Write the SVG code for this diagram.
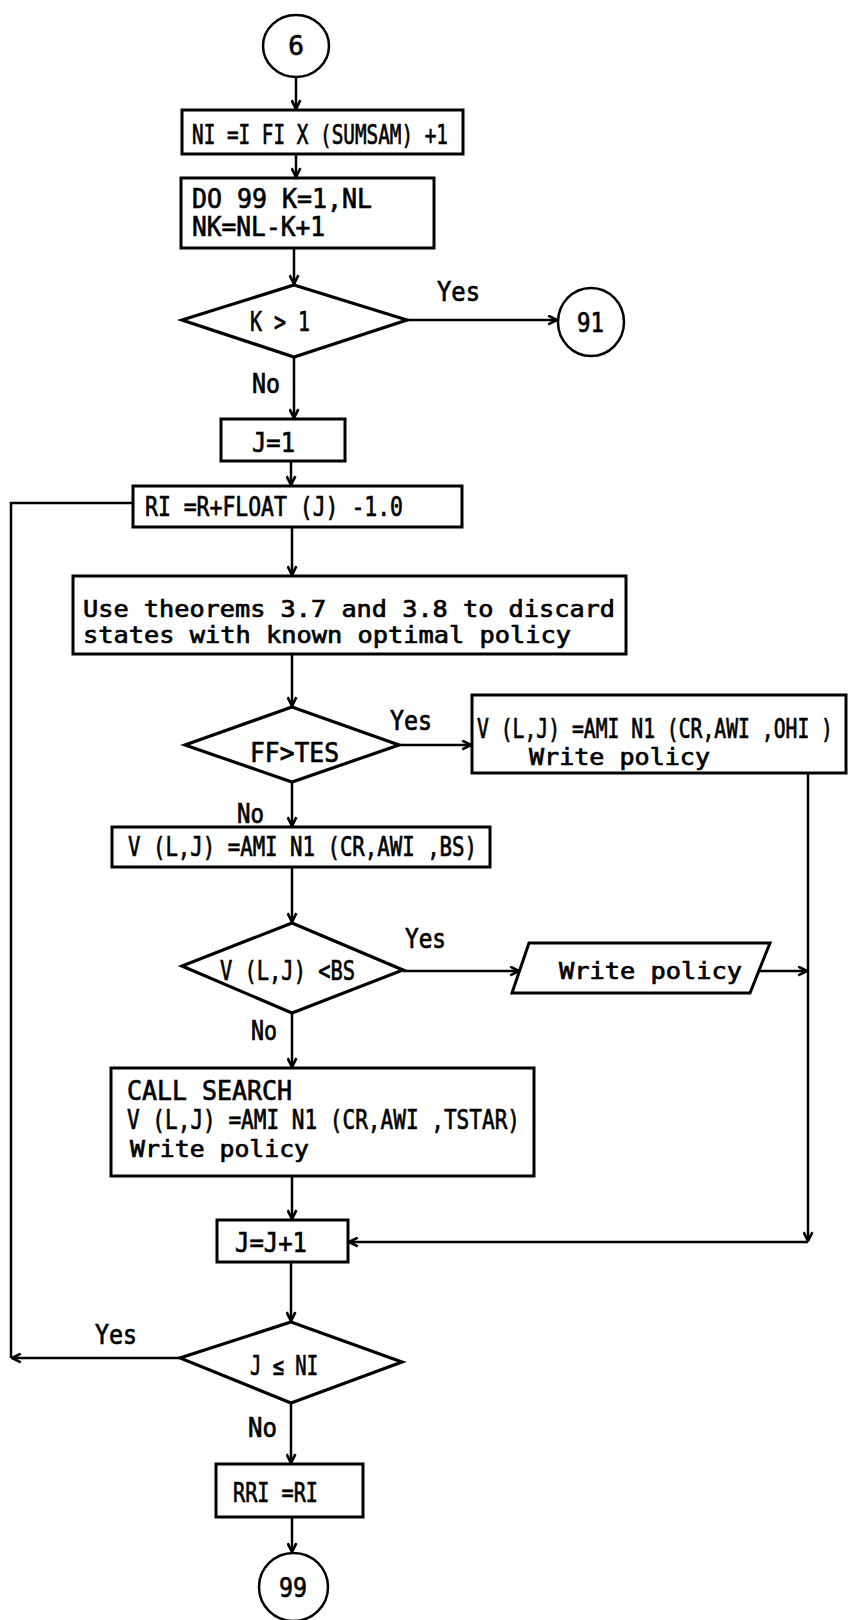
<svg xmlns="http://www.w3.org/2000/svg" width="848" height="1620" viewBox="0 0 848 1620">
<style>
  .bg { fill: #ffffff; }
  .box { fill: #ffffff; stroke: #000; stroke-width: 3; }
  .dia { fill: #ffffff; stroke: #000; stroke-width: 3.2; stroke-linejoin: miter; }
  .term { fill: #ffffff; stroke: #000; stroke-width: 2.5; }
  .conn { fill: none; stroke: #000; stroke-width: 2.5; }
  .t { font-family: "DejaVu Sans Mono", "Liberation Mono", monospace; fill: #000; stroke: #000; stroke-width: 0.7; }
  .up { font-size: 27px; }
  .lo { font-size: 23px; }
  .lbl { font-size: 26px; }
  .sm { font-size: 20px; stroke-width: 0.55; }
</style>
<defs>
  <marker id="ah" viewBox="0 0 10 10" refX="9" refY="5" markerWidth="11" markerHeight="11" orient="auto" markerUnits="userSpaceOnUse">
    <path d="M1,1 L9,5 L1,9" fill="none" stroke="#000" stroke-width="2.4"/>
  </marker>
</defs>
<rect class="bg" x="0" y="0" width="848" height="1620"/>

<g id="connectors">
  <line class="conn" x1="296" y1="77" x2="296" y2="109" marker-end="url(#ah)"/>
  <line class="conn" x1="296" y1="154" x2="296" y2="177" marker-end="url(#ah)"/>
  <line class="conn" x1="294" y1="248" x2="294" y2="284" marker-end="url(#ah)"/>
  <line class="conn" x1="407" y1="320" x2="557" y2="320" marker-end="url(#ah)"/>
  <line class="conn" x1="294" y1="357" x2="294" y2="418" marker-end="url(#ah)"/>
  <line class="conn" x1="291" y1="461" x2="291" y2="485" marker-end="url(#ah)"/>
  <line class="conn" x1="292" y1="527" x2="292" y2="575" marker-end="url(#ah)"/>
  <line class="conn" x1="292" y1="654" x2="292" y2="706" marker-end="url(#ah)"/>
  <line class="conn" x1="399" y1="745" x2="471" y2="745" marker-end="url(#ah)"/>
  <line class="conn" x1="292" y1="782" x2="292" y2="826" marker-end="url(#ah)"/>
  <line class="conn" x1="292" y1="867" x2="292" y2="922" marker-end="url(#ah)"/>
  <line class="conn" x1="403" y1="971" x2="519" y2="971" marker-end="url(#ah)"/>
  <line class="conn" x1="759" y1="971" x2="807" y2="971" marker-end="url(#ah)"/>
  <line class="conn" x1="808" y1="773" x2="808" y2="1241" marker-end="url(#ah)"/>
  <line class="conn" x1="808" y1="1242" x2="349" y2="1242" marker-end="url(#ah)"/>
  <line class="conn" x1="292" y1="1013" x2="292" y2="1067" marker-end="url(#ah)"/>
  <line class="conn" x1="292" y1="1176" x2="292" y2="1219" marker-end="url(#ah)"/>
  <line class="conn" x1="291" y1="1262" x2="291" y2="1321" marker-end="url(#ah)"/>
  <line class="conn" x1="180" y1="1358" x2="12" y2="1358" marker-end="url(#ah)"/>
  <polyline class="conn" points="11,1358 11,503 133,503"/>
  <line class="conn" x1="291" y1="1403" x2="291" y2="1463" marker-end="url(#ah)"/>
  <line class="conn" x1="292" y1="1517" x2="292" y2="1552" marker-end="url(#ah)"/>
</g>

<g id="n6">
  <ellipse class="term" cx="296" cy="46" rx="33" ry="31"/>
  <text class="t lbl" x="296" y="55" text-anchor="middle">6</text>
</g>
<g id="nNI">
  <rect class="box" x="182" y="110" width="281" height="44"/>
  <text class="t up" x="192" y="144" textLength="256" lengthAdjust="spacingAndGlyphs">NI =I FI X (SUMSAM) +1</text>
</g>
<g id="nDO">
  <rect class="box" x="181" y="178" width="253" height="70"/>
  <text class="t up" x="192" y="208" textLength="180" lengthAdjust="spacingAndGlyphs">DO 99 K=1,NL</text>
  <text class="t up" x="192" y="236" textLength="133" lengthAdjust="spacingAndGlyphs">NK=NL-K+1</text>
</g>
<g id="nK">
  <polygon class="dia" points="294,285 407,320 294,357 182,320"/>
  <text class="t up" x="250" y="331" textLength="60" lengthAdjust="spacingAndGlyphs">K &gt; 1</text>
  <text class="t lbl" x="437" y="301" textLength="43" lengthAdjust="spacingAndGlyphs">Yes</text>
  <text class="t lbl" x="252" y="393" textLength="28" lengthAdjust="spacingAndGlyphs">No</text>
</g>
<g id="n91">
  <ellipse class="term" cx="591" cy="322" rx="33" ry="34"/>
  <text class="t lbl" x="577" y="332" textLength="27" lengthAdjust="spacingAndGlyphs">91</text>
</g>
<g id="nJ1">
  <rect class="box" x="221" y="419" width="124" height="42"/>
  <text class="t up" x="252" y="452" textLength="43" lengthAdjust="spacingAndGlyphs">J=1</text>
</g>
<g id="nRI">
  <rect class="box" x="133" y="486" width="329" height="41"/>
  <text class="t up" x="145" y="516" textLength="258" lengthAdjust="spacingAndGlyphs">RI =R+FLOAT (J) -1.0</text>
</g>
<g id="nUse">
  <rect class="box" x="73" y="576" width="553" height="78"/>
  <text class="t lo" x="83" y="617" textLength="532" lengthAdjust="spacingAndGlyphs">Use theorems 3.7 and 3.8 to discard</text>
  <text class="t lo" x="83" y="643" textLength="488" lengthAdjust="spacingAndGlyphs">states with known optimal policy</text>
</g>
<g id="nFF">
  <polygon class="dia" points="292,707 399,745 292,782 185,745"/>
  <text class="t up" x="250" y="762" textLength="89" lengthAdjust="spacingAndGlyphs">FF&gt;TES</text>
  <text class="t lbl" x="390" y="730" textLength="42" lengthAdjust="spacingAndGlyphs">Yes</text>
  <text class="t lbl" x="237" y="823" textLength="27" lengthAdjust="spacingAndGlyphs">No</text>
</g>
<g id="nOHI">
  <rect class="box" x="472" y="695" width="374" height="78"/>
  <g transform="translate(477,738) scale(1,1.3)">
    <text class="t sm" x="0" y="0" textLength="356" lengthAdjust="spacingAndGlyphs">V (L,J) =AMI N1 (CR,AWI ,OHI )</text>
  </g>
  <text class="t lo" x="529" y="765" textLength="181" lengthAdjust="spacingAndGlyphs">Write policy</text>
</g>
<g id="nBS">
  <rect class="box" x="112" y="827" width="378" height="40"/>
  <text class="t up" x="128" y="856" textLength="349" lengthAdjust="spacingAndGlyphs">V (L,J) =AMI N1 (CR,AWI ,BS)</text>
</g>
<g id="nVBS">
  <polygon class="dia" points="292,923 403,970 292,1013 182,966"/>
  <text class="t up" x="220" y="980" textLength="135" lengthAdjust="spacingAndGlyphs">V (L,J) &lt;BS</text>
  <text class="t lbl" x="405" y="948" textLength="41" lengthAdjust="spacingAndGlyphs">Yes</text>
  <text class="t lbl" x="251" y="1040" textLength="26" lengthAdjust="spacingAndGlyphs">No</text>
</g>
<g id="nWrite">
  <polygon class="box" points="529,943 770,943 750,993 512,993"/>
  <text class="t lo" x="559" y="979" textLength="183" lengthAdjust="spacingAndGlyphs">Write policy</text>
</g>
<g id="nCall">
  <rect class="box" x="111" y="1068" width="423" height="108"/>
  <text class="t up" x="127" y="1100" textLength="165" lengthAdjust="spacingAndGlyphs">CALL SEARCH</text>
  <text class="t up" x="127" y="1129" textLength="393" lengthAdjust="spacingAndGlyphs">V (L,J) =AMI N1 (CR,AWI ,TSTAR)</text>
  <text class="t lo" x="130" y="1157" textLength="179" lengthAdjust="spacingAndGlyphs">Write policy</text>
</g>
<g id="nJJ">
  <rect class="box" x="217" y="1220" width="131" height="42"/>
  <text class="t up" x="235" y="1252" textLength="72" lengthAdjust="spacingAndGlyphs">J=J+1</text>
</g>
<g id="nJNI">
  <polygon class="dia" points="291,1322 402,1362 291,1403 180,1358"/>
  <text class="t up" x="250" y="1375" textLength="68" lengthAdjust="spacingAndGlyphs">J ≤ NI</text>
  <text class="t lbl" x="95" y="1344" textLength="42" lengthAdjust="spacingAndGlyphs">Yes</text>
  <text class="t lbl" x="248" y="1437" textLength="29" lengthAdjust="spacingAndGlyphs">No</text>
</g>
<g id="nRRI">
  <rect class="box" x="216" y="1464" width="147" height="53"/>
  <text class="t up" x="233" y="1502" textLength="85" lengthAdjust="spacingAndGlyphs">RRI =RI</text>
</g>
<g id="n99">
  <ellipse class="term" cx="293.5" cy="1587" rx="34.5" ry="34"/>
  <text class="t lbl" x="279" y="1597" textLength="28" lengthAdjust="spacingAndGlyphs">99</text>
</g>
</svg>
